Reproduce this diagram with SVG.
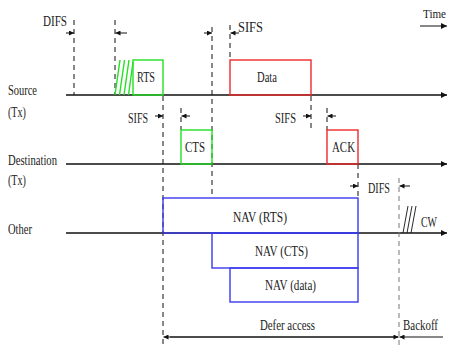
<svg xmlns="http://www.w3.org/2000/svg" width="450" height="345" viewBox="0 0 450 345">
<style>
text{font-family:"Liberation Serif","Times New Roman",serif;font-size:14px;fill:#222}
.ax{stroke:#111;stroke-width:1.4;fill:none}
.dash{stroke:#111;stroke-width:1;stroke-dasharray:5,4;fill:none}
.dashg{stroke:#777;stroke-width:1;stroke-dasharray:5,4;fill:none}
.iv{stroke:#111;stroke-width:1;fill:none}
.g{stroke:#22e022;stroke-width:1.4;fill:none}
.r{stroke:#ee2a2a;stroke-width:1.4;fill:none}
.b{stroke:#3a3aee;stroke-width:1.4;fill:none}
.h{stroke:#111;stroke-width:0.9;fill:none}
</style>
<defs>
<marker id="ah" viewBox="0 0 10 10" refX="10" refY="5" markerWidth="8" markerHeight="6" markerUnits="userSpaceOnUse" orient="auto"><path d="M0,0 L10,5 L0,10 z" fill="#111"/></marker>
<marker id="sa" viewBox="0 0 10 10" refX="10" refY="5" markerWidth="6" markerHeight="5" markerUnits="userSpaceOnUse" orient="auto"><path d="M0,0 L10,5 L0,10 z" fill="#111"/></marker>
</defs>

<g id="labels">
<text x="8" y="95" textLength="29" lengthAdjust="spacingAndGlyphs">Source</text>
<text x="8" y="117" textLength="18" lengthAdjust="spacingAndGlyphs">(Tx)</text>
<text x="8" y="165" textLength="49" lengthAdjust="spacingAndGlyphs">Destination</text>
<text x="8" y="185" textLength="18" lengthAdjust="spacingAndGlyphs">(Tx)</text>
<text x="8" y="234" textLength="24" lengthAdjust="spacingAndGlyphs">Other</text>
<text x="423" y="18" style="font-size:12px" textLength="23" lengthAdjust="spacingAndGlyphs">Time</text>
<text x="43" y="26" textLength="24" lengthAdjust="spacingAndGlyphs">DIFS</text>
<text x="238" y="32" textLength="25" lengthAdjust="spacingAndGlyphs">SIFS</text>
<text x="128" y="123" textLength="20" lengthAdjust="spacingAndGlyphs">SIFS</text>
<text x="275" y="123" textLength="21" lengthAdjust="spacingAndGlyphs">SIFS</text>
<text x="368" y="193" textLength="22" lengthAdjust="spacingAndGlyphs">DIFS</text>
<text x="421" y="227" textLength="16" lengthAdjust="spacingAndGlyphs">CW</text>
<text x="260" y="330" textLength="55" lengthAdjust="spacingAndGlyphs">Defer access</text>
<text x="403" y="330" textLength="35" lengthAdjust="spacingAndGlyphs">Backoff</text>
</g>

<g id="connectors">
<line class="ax" x1="66" y1="95" x2="447" y2="95" marker-end="url(#ah)"/>
<line class="ax" x1="66" y1="164" x2="447" y2="164" marker-end="url(#ah)"/>
<line class="ax" x1="66" y1="233" x2="447" y2="233" marker-end="url(#ah)"/>
<line class="iv" x1="420" y1="26" x2="447" y2="26" marker-end="url(#ah)"/>
<line class="dash" x1="74" y1="20" x2="74" y2="95"/>
<line class="dash" x1="115" y1="20" x2="115" y2="95"/>
<line class="dash" x1="163" y1="96" x2="163" y2="345"/>
<line class="dash" x1="212" y1="27" x2="212" y2="198"/>
<line class="dash" x1="230" y1="25" x2="230" y2="60"/>
<line class="dash" x1="181" y1="108" x2="181" y2="130"/>
<line class="dash" x1="311" y1="96" x2="311" y2="130"/>
<line class="dash" x1="327" y1="108" x2="327" y2="130"/>
<line class="dash" x1="358" y1="164" x2="358" y2="198"/>
<line class="dashg" x1="399" y1="178" x2="399" y2="345"/>
<line class="iv" x1="66" y1="33" x2="74" y2="33" marker-end="url(#sa)"/>
<line class="iv" x1="127" y1="33" x2="115.5" y2="33" marker-end="url(#sa)"/>
<line class="iv" x1="204" y1="33" x2="212" y2="33" marker-end="url(#sa)"/>
<line class="iv" x1="239" y1="33" x2="230.5" y2="33" marker-end="url(#sa)"/>
<line class="iv" x1="155" y1="116" x2="163" y2="116" marker-end="url(#sa)"/>
<line class="iv" x1="190" y1="116" x2="181.5" y2="116" marker-end="url(#sa)"/>
<line class="iv" x1="303" y1="116" x2="311" y2="116" marker-end="url(#sa)"/>
<line class="iv" x1="336" y1="116" x2="327.5" y2="116" marker-end="url(#sa)"/>
<line class="iv" x1="350" y1="186" x2="358" y2="186" marker-end="url(#sa)"/>
<line class="iv" x1="410" y1="186" x2="399.5" y2="186" marker-end="url(#sa)"/>
<line class="iv" x1="398" y1="337" x2="163.5" y2="337" marker-end="url(#sa)"/>
<line class="iv" x1="170" y1="337" x2="398.5" y2="337" marker-end="url(#sa)"/>
<line class="iv" x1="443" y1="337" x2="399.5" y2="337" marker-end="url(#sa)"/>
<path class="h" d="M403,233 L408,206 M407,233 L412,206 M411,233 L416,206"/>
</g>

<g id="rts">
<path class="g" d="M115,95 L120,60 M119.5,95 L124.5,60 M124,95 L129,60 M128.5,95 L133,62"/>
<rect class="g" x="133" y="60" width="30" height="35"/>
<text x="137" y="82" textLength="18" lengthAdjust="spacingAndGlyphs">RTS</text>
</g>
<g id="data">
<rect class="r" x="230" y="60" width="81" height="35"/>
<text x="257" y="82" textLength="20" lengthAdjust="spacingAndGlyphs">Data</text>
</g>
<g id="cts">
<rect class="g" x="181" y="130" width="31" height="34"/>
<text x="185" y="152" textLength="20" lengthAdjust="spacingAndGlyphs">CTS</text>
</g>
<g id="ack">
<rect class="r" x="327" y="130" width="31" height="34"/>
<text x="332" y="152" textLength="23" lengthAdjust="spacingAndGlyphs">ACK</text>
</g>
<g id="nav-rts">
<rect class="b" x="163" y="198" width="195" height="35"/>
<text x="233" y="222" textLength="54" lengthAdjust="spacingAndGlyphs">NAV (RTS)</text>
</g>
<g id="nav-cts">
<rect class="b" x="212" y="233" width="146" height="35"/>
<text x="255" y="256" textLength="53" lengthAdjust="spacingAndGlyphs">NAV (CTS)</text>
</g>
<g id="nav-data">
<rect class="b" x="230" y="268" width="128" height="34"/>
<text x="265" y="290" textLength="51" lengthAdjust="spacingAndGlyphs">NAV (data)</text>
</g>
</svg>
